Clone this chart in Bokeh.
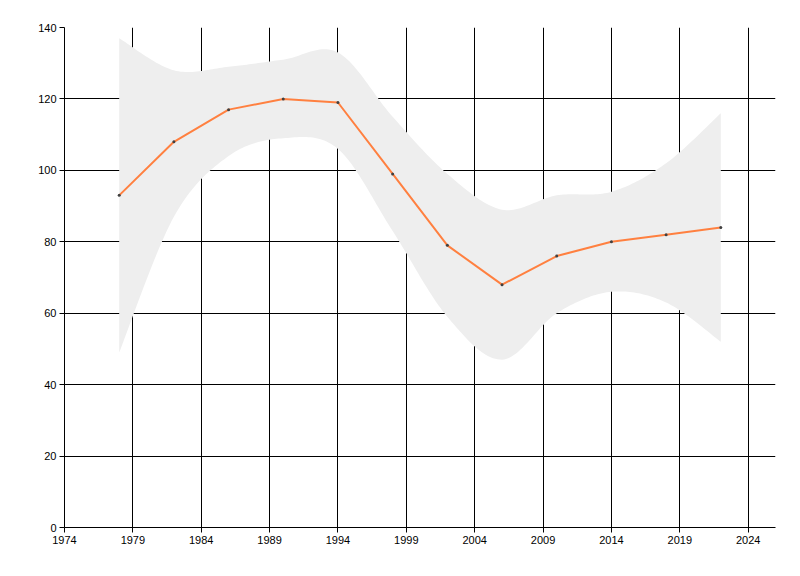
from bokeh.plotting import figure
from bokeh.models import FixedTicker, Range1d
from bokeh.embed import file_html
from bokeh.resources import INLINE

# ---- data ----
years = [1978, 1982, 1986, 1990, 1994, 1998, 2002, 2006, 2010, 2014, 2018, 2022]
values = [93, 108, 117, 120, 119, 99, 79, 68, 76, 80, 82, 84]
upper = [137, 128, 129, 131, 133, 115, 99, 89, 93, 94, 102, 116]
lower = [49, 87, 104, 109, 106, 83, 59, 47, 60, 66, 63, 52]
x_ticks = [1974, 1979, 1984, 1989, 1994, 1999, 2004, 2009, 2014, 2019, 2024]
y_ticks = [0, 20, 40, 60, 80, 100, 120, 140]


def cardinal(xs, ys, tension=0.5, steps=24):
    """Render a cardinal spline through the knots (drawing only)."""
    n = len(xs)
    ox, oy = [], []
    for i in range(n - 1):
        x0, y0 = (xs[i - 1], ys[i - 1]) if i > 0 else (xs[i], ys[i])
        x1, y1 = xs[i], ys[i]
        x2, y2 = xs[i + 1], ys[i + 1]
        x3, y3 = (xs[i + 2], ys[i + 2]) if i + 2 < n else (xs[i + 1], ys[i + 1])
        b1x = x1 + tension * (x2 - x0) / 3.0
        b1y = y1 + tension * (y2 - y0) / 3.0
        b2x = x2 - tension * (x3 - x1) / 3.0
        b2y = y2 - tension * (y3 - y1) / 3.0
        for k in range(steps):
            t = k / steps
            u = 1 - t
            ox.append(u**3 * x1 + 3 * u * u * t * b1x + 3 * u * t * t * b2x + t**3 * x2)
            oy.append(u**3 * y1 + 3 * u * u * t * b1y + 3 * u * t * t * b2y + t**3 * y2)
    ox.append(xs[-1])
    oy.append(ys[-1])
    return ox, oy


ux, uy = cardinal(years, upper)
lx, ly = cardinal(years, lower)
band_x = ux + lx[::-1]
band_y = uy + ly[::-1]

p = figure(width=792, height=568, output_backend="svg", toolbar_location=None,
           x_range=Range1d(1974, 2026), y_range=Range1d(0, 140),
           min_border_left=64, min_border_right=17, min_border_top=27, min_border_bottom=41)
p.outline_line_color = None
p.background_fill_color = "white"
p.border_fill_color = "white"

p.patch(band_x, band_y, fill_color="#EEEEEE", line_color=None)
p.line(years, values, line_color="#FF8040", line_width=2)
p.scatter(years, values, size=3, fill_color="#404040", line_color=None)

for ax in (p.xaxis[0], p.yaxis[0]):
    ax.axis_line_color = "black"
    ax.major_tick_line_color = "black"
    ax.minor_tick_line_color = None
    ax.major_tick_in = 0
    ax.major_tick_out = 5
    ax.major_label_text_font = "Liberation Sans"
    ax.major_label_text_font_size = "11px"
    ax.major_label_text_color = "black"
    ax.major_label_standoff = 3

p.xaxis.ticker = FixedTicker(ticks=x_ticks)
p.yaxis.ticker = FixedTicker(ticks=y_ticks)

p.xgrid.ticker = FixedTicker(ticks=x_ticks)
p.ygrid.ticker = FixedTicker(ticks=y_ticks)
p.grid.grid_line_color = "black"
p.grid.grid_line_alpha = 1.0
p.grid.grid_line_width = 1

open("out.html", "w").write(file_html(p, INLINE))
